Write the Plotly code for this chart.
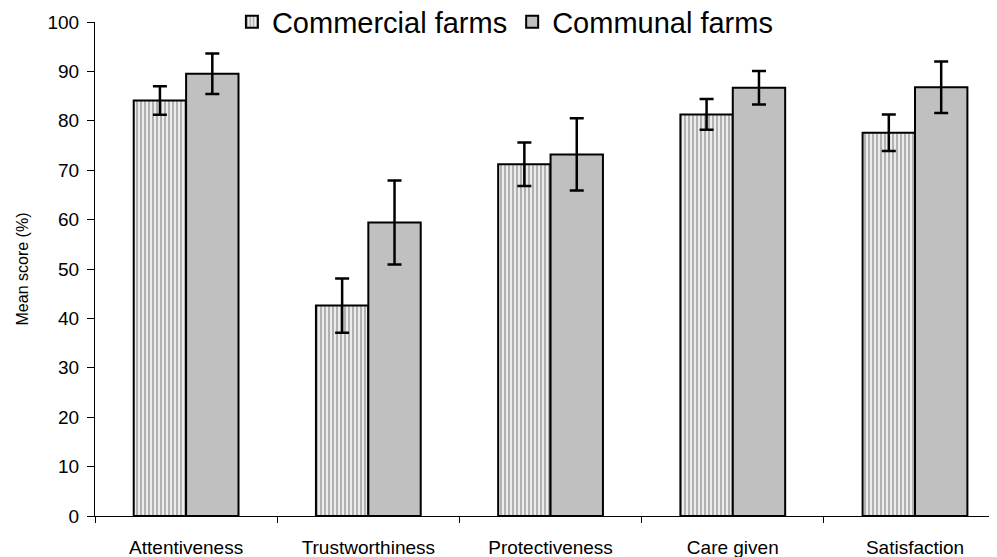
import plotly.graph_objects as go

categories = ["Attentiveness", "Trustworthiness", "Protectiveness", "Care given", "Satisfaction"]
commercial = [84.1, 42.6, 71.2, 81.3, 77.6]
commercial_err = [2.9, 5.5, 4.4, 3.1, 3.7]
communal = [89.5, 59.4, 73.2, 86.7, 86.8]
communal_err = [4.1, 8.5, 7.3, 3.4, 5.2]

FONT = "Liberation Sans, Arial, sans-serif"

fig = go.Figure()
fig.add_trace(go.Bar(
    name="Commercial farms", x=categories, y=commercial,
    marker=dict(color="#ececec", line=dict(color="black", width=2),
                pattern=dict(shape="|", fgcolor="black", bgcolor="#ececec", size=4, solidity=0.25)),
    error_y=dict(type="data", array=commercial_err, color="black", thickness=2.5, width=7),
))
fig.add_trace(go.Bar(
    name="Communal farms", x=categories, y=communal,
    marker=dict(color="#c0c0c0", line=dict(color="black", width=2)),
    error_y=dict(type="data", array=communal_err, color="black", thickness=2.5, width=7),
))

# the page body adds an 8px offset; margins compensate for it
fig.update_layout(
    width=997, height=557,
    margin=dict(l=87, r=8, t=14, b=49, autoexpand=False),
    paper_bgcolor="white", plot_bgcolor="white",
    barmode="group", bargap=0.425, bargroupgap=0,
    font=dict(family=FONT, color="black"),
    showlegend=True,
    legend=dict(orientation="h", x=0.455, xanchor="center", y=1.0, yanchor="middle",
                font=dict(size=29, family=FONT), bgcolor="rgba(0,0,0,0)",
                itemwidth=30, tracegroupgap=0),
)
fig.update_xaxes(
    range=[-0.5, 4.45], showline=True, linecolor="black", linewidth=1,
    ticks="outside", tickson="boundaries", ticklen=6, tickcolor="black",
    tickfont=dict(size=19, family=FONT), ticklabelstandoff=14,
    showgrid=False, zeroline=False,
)
fig.update_yaxes(
    range=[0, 100], dtick=10, showline=True, linecolor="black", linewidth=1,
    ticks="outside", ticklen=7, tickcolor="black",
    tickfont=dict(size=19, family=FONT), ticklabelstandoff=4,
    showgrid=False, zeroline=False,
    title=dict(text="Mean score (%)", font=dict(size=16, family=FONT), standoff=14),
)

fig.write_html("out.html")
